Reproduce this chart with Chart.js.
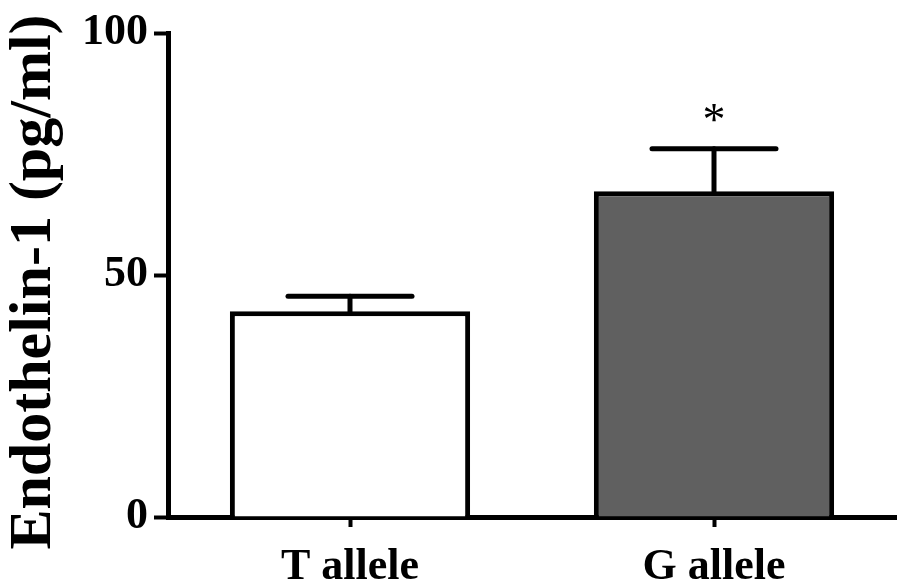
<!DOCTYPE html>
<html>
<head>
<meta charset="utf-8">
<script src="https://cdn.jsdelivr.net/npm/chart.js@4/dist/chart.umd.min.js"></script>
<style>
  html, body { margin: 0; padding: 0; background: #fff; }
  #wrap { width: 905px; height: 585px; position: relative; }
</style>
</head>
<body>
<div id="wrap"><canvas id="c" width="905" height="585"></canvas></div>
<script>
const categories = ["T allele", "G allele"];
const meanValues = [42.5, 67.3];
const errorValues = [3.1, 8.8];
const significance = ["", "*"];
const barFills = ["#ffffff", "#606060"];
const yTicks = [0, 50, 100];
const yTitle = "Endothelin-1 (pg/ml)";

const FONT = "'Liberation Serif', 'Times New Roman', serif";

const errorBarPlugin = {
  id: 'errorBars',
  afterDatasetsDraw(chart) {
    const ctx = chart.ctx;
    const meta = chart.getDatasetMeta(0);
    const y = chart.scales.y;
    ctx.save();
    ctx.strokeStyle = '#000';
    ctx.lineWidth = 5;
    ctx.lineCap = 'round';
    meta.data.forEach((bar, i) => {
      const x = bar.x;
      const yTop = y.getPixelForValue(meanValues[i] + errorValues[i]);
      const yBar = y.getPixelForValue(meanValues[i]);
      const half = 62;
      ctx.beginPath();
      ctx.moveTo(x, yBar);
      ctx.lineTo(x, yTop);
      ctx.stroke();
      ctx.beginPath();
      ctx.moveTo(x - half, yTop);
      ctx.lineTo(x + half, yTop);
      ctx.stroke();
      if (significance[i]) {
        ctx.fillStyle = '#000';
        ctx.font = "46px " + FONT;
        ctx.textAlign = 'center';
        ctx.textBaseline = 'alphabetic';
        ctx.fillText(significance[i], x, yTop - 14);
      }
    });
    ctx.restore();
  }
};

const yTitlePlugin = {
  id: 'yTitle',
  afterDraw(chart) {
    const ctx = chart.ctx;
    const area = chart.chartArea;
    ctx.save();
    ctx.translate(50, (area.top + area.bottom) / 2 + 7);
    ctx.rotate(-Math.PI / 2);
    ctx.fillStyle = '#000';
    ctx.font = "bold 60px " + FONT;
    ctx.textAlign = 'center';
    ctx.textBaseline = 'alphabetic';
    ctx.fillText(yTitle, 0, 0);
    ctx.restore();
  }
};

new Chart(document.getElementById('c'), {
  type: 'bar',
  data: {
    labels: categories,
    datasets: [{
      data: meanValues,
      backgroundColor: barFills,
      borderColor: '#000',
      borderWidth: 5,
      borderSkipped: 'bottom',
      barPercentage: 0.66,
      categoryPercentage: 1.0
    }]
  },
  options: {
    responsive: false,
    animation: false,
    devicePixelRatio: 1,
    layout: { padding: { top: 33, right: 9, left: 0, bottom: 0 } },
    plugins: { legend: { display: false }, tooltip: { enabled: false } },
    scales: {
      x: {
        offset: true,
        border: { display: true, color: '#000', width: 5 },
        grid: { display: true, offset: false, drawOnChartArea: false, drawTicks: true, tickLength: 10, tickWidth: 4, tickColor: '#000', color: '#000' },
        ticks: { color: '#000', padding: 14, font: { family: FONT, size: 44, weight: 'bold' } },
        afterFit(scale) { scale.height = 68; }
      },
      y: {
        min: 0, max: 100,
        afterBuildTicks(scale) { scale.ticks = yTicks.map(v => ({ value: v })); },
        border: { display: true, color: '#000', width: 5 },
        grid: { display: true, drawOnChartArea: false, drawTicks: true, tickLength: 14, tickWidth: 4, tickColor: '#000', color: '#000' },
        ticks: { color: '#000', padding: 6, font: { family: FONT, size: 44, weight: 'bold' } },
        title: { display: false },
        afterFit(scale) { scale.width = 168; }
      }
    }
  },
  plugins: [errorBarPlugin, yTitlePlugin]
});
</script>
</body>
</html>
